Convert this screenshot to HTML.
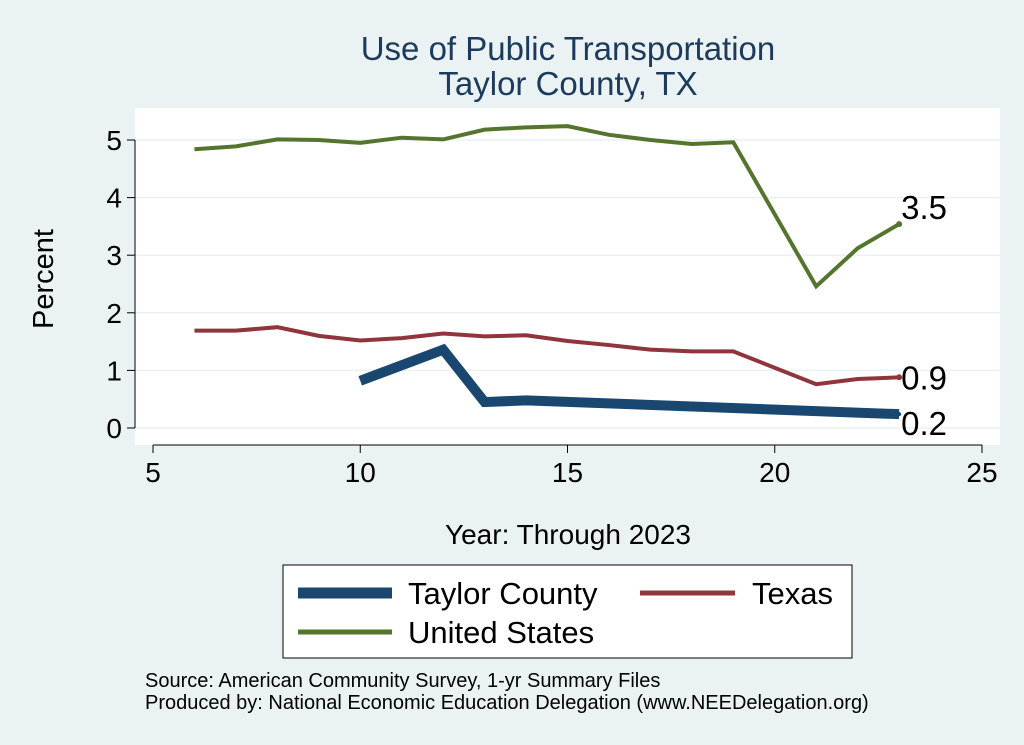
<!DOCTYPE html>
<html><head><meta charset="utf-8"><style>
body{margin:0;background:#eaf2f3;font-family:"Liberation Sans",sans-serif}
svg{display:block}
</style></head><body>
<svg width="1024" height="745" viewBox="0 0 1024 745">
<rect x="0" y="0" width="1024" height="745" fill="#eaf2f3"/>
<text x="568" y="60" font-size="33" fill="#1c3a5c" text-anchor="middle">Use of Public Transportation</text>
<text x="568" y="95" font-size="33" fill="#1c3a5c" text-anchor="middle">Taylor County, TX</text>
<rect x="135" y="108" width="865" height="337" fill="#fff"/>
<g id="grid"></g>
<g id="axes"></g>
<g id="series"></g>
<text x="53" y="279" font-size="29" text-anchor="middle" transform="rotate(-90 53 279)">Percent</text>
<text x="568" y="544" font-size="28" text-anchor="middle">Year: Through 2023</text>
<g>
<rect x="283" y="565" width="569" height="93" fill="#fff" stroke="#000" stroke-width="1"/>
<line x1="298" y1="593" x2="392" y2="593" stroke="#1a476f" stroke-width="11"/>
<text x="408" y="604" font-size="31">Taylor County</text>
<line x1="640" y1="593" x2="735" y2="593" stroke="#90353b" stroke-width="5"/>
<text x="752" y="604" font-size="31">Texas</text>
<line x1="298" y1="632" x2="392" y2="632" stroke="#55752f" stroke-width="5"/>
<text x="408" y="643" font-size="31">United States</text>
</g>
<text x="145" y="687" font-size="20">Source: American Community Survey, 1-yr Summary Files</text>
<text x="145" y="709" font-size="20">Produced by: National Economic Education Delegation (www.NEEDelegation.org)</text>
</svg>
<script>
const usYears=[6,7,8,9,10,11,12,13,14,15,16,17,18,19,21,22,23];
const usValues=[4.84,4.89,5.01,5.00,4.95,5.04,5.01,5.18,5.22,5.24,5.09,5.00,4.93,4.96,2.46,3.12,3.54];
const txYears=[6,7,8,9,10,11,12,13,14,15,16,17,18,19,21,22,23];
const txValues=[1.69,1.69,1.75,1.60,1.52,1.56,1.64,1.59,1.61,1.51,1.44,1.36,1.33,1.33,0.76,0.85,0.88];
const tcYears=[10,12,13,14,23];
const tcValues=[0.82,1.36,0.45,0.48,0.24];
const xTicks=[5,10,15,20,25];
const yTicks=[0,1,2,3,4,5];
const NS='http://www.w3.org/2000/svg';
const X=v=>153+(v-5)*41.45;
const Y=v=>428-v*57.6;
function mk(t,a,p){const e=document.createElementNS(NS,t);for(const k in a)e.setAttribute(k,a[k]);p.appendChild(e);return e;}
const grid=document.getElementById('grid'),axes=document.getElementById('axes'),ser=document.getElementById('series');
yTicks.forEach(v=>{
 const g=mk('line',{x1:135,x2:1000,y1:Y(v),y2:Y(v),stroke:'#eaf2f3','stroke-width':1.5},grid);
 
 
 const t=mk('line',{x1:127,x2:135,y1:Y(v),y2:Y(v),stroke:'#000'},axes);
 
 
 const l=mk('text',{x:122,y:Y(v)+10,'font-size':28,'text-anchor':'end'},axes);l.textContent=v;
 
 
});
xTicks.forEach(v=>{
 const t=mk('line',{x1:X(v),x2:X(v),y1:445,y2:453,stroke:'#000'},axes);
 
 
 const l=mk('text',{x:X(v),y:482,'font-size':28,'text-anchor':'middle'},axes);l.textContent=v;
 
 
});
const ya=mk('line',{x1:135,x2:135,y1:Y(0),y2:Y(5),stroke:'#000'},axes);


const xa=mk('line',{x1:X(5),x2:X(25),y1:445,y2:445,stroke:'#000'},axes);


function line(xs,ys,col,w,name){
 const p=mk('polyline',{points:xs.map((x,i)=>X(x)+','+Y(ys[i])).join(' '),fill:'none',stroke:col,'stroke-width':w,'stroke-linejoin':'miter'},ser);
 
 
 const n=xs.length-1;
 const c=mk('circle',{cx:X(xs[n]),cy:Y(ys[n]),r:name==='line-taylor'?2:3,fill:col},ser);
 
 
 const t=mk('text',{x:X(xs[n])+2,y:Y(ys[n])+(name==='line-taylor'?21:(name==='line-us'?-5:12)),'font-size':33},ser);
 t.textContent=ys[n].toFixed(1);
 
 
}
line(usYears,usValues,'#55752f',4,'line-us');
line(txYears,txValues,'#90353b',4,'line-texas');
line(tcYears,tcValues,'#1a476f',10,'line-taylor');
</script>
</body></html>
